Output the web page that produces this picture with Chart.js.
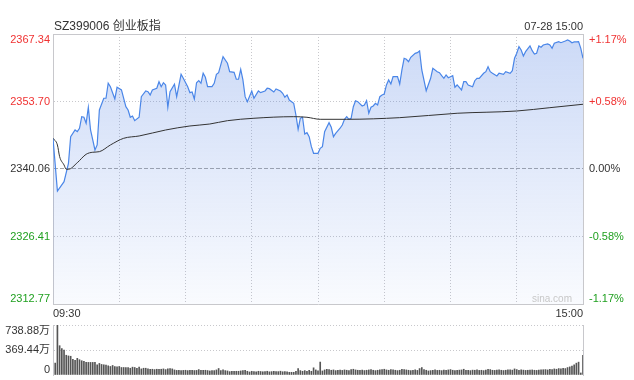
<!DOCTYPE html>
<html>
<head>
<meta charset="utf-8">
<script src="https://cdn.jsdelivr.net/npm/chart.js@4.4.1/dist/chart.umd.min.js"></script>
<style>
  html, body { margin: 0; padding: 0; background: #fff; overflow: hidden; }
  #wrap { position: relative; width: 634px; height: 380px; }
  #priceBox { position: absolute; left: 0; top: 0; width: 634px; height: 320px; }
  #volBox { position: absolute; left: 0; top: 320px; width: 634px; height: 60px; }
</style>
</head>
<body>
<div id="wrap">
  <div id="priceBox"><canvas id="priceChart"></canvas></div>
  <div id="volBox"><canvas id="volChart"></canvas></div>
</div>
<script>
// header texts
const stockTitle = 'SZ399006 创业板指';
const dateTime = '07-28 15:00';
const watermark = 'sina.com';
const prevClose = 2340.06;

// axis labels
const timeLabels = ['09:30', '15:00'];
const priceTicks = [2312.77, 2326.41, 2340.06, 2353.70, 2367.34];
const pctTicks = ['-1.17%', '-0.58%', '0.00%', '+0.58%', '+1.17%'];
const volTicks = [0, 369.44, 738.88];
const volTickLabels = ['0', '369.44万', '738.88万'];

// price line (minute index since 09:30, value)
const priceMinutes = [
  0, 2, 5, 7, 8, 10, 11, 12, 13, 14,
  15, 16, 17, 18, 19, 20, 21, 23, 24, 25,
  26, 28, 29, 31, 33, 34, 35, 36, 37, 39,
  40, 42, 43, 44, 45, 47, 48, 49, 50, 51,
  52, 53, 55, 56, 58, 59, 61, 62, 63, 64,
  65, 66, 67, 68, 69, 70, 72, 73, 74, 75,
  77, 79, 80, 82, 83, 84, 85, 86, 87, 88,
  90, 91, 93, 94, 96, 97, 98, 100, 101, 103,
  104, 105, 106, 107, 109, 110, 111, 112, 113, 114,
  115, 116, 117, 118, 120, 121, 122, 123, 125, 126,
  127, 128, 130, 131, 132, 133, 134, 135, 136, 137,
  138, 140, 141, 142, 143, 144, 145, 146, 147, 148,
  149, 150, 151, 152, 153, 154, 156, 157, 158, 159,
  160, 161, 162, 164, 165, 166, 167, 169, 171, 172,
  174, 175, 176, 177, 178, 179, 180, 181, 182, 183,
  185, 186, 187, 188, 190, 191, 192, 193, 195, 196,
  197, 198, 199, 201, 202, 204, 205, 207, 208, 209,
  210, 211, 212, 213, 214, 216, 217, 218, 219, 220,
  221, 222, 224, 225, 226, 227, 229, 230, 232, 233,
  234, 235, 236, 237, 238, 239, 240
];
const priceValues = [
  2346.26, 2335.61, 2337.49, 2341.21, 2346.59, 2347.94, 2347.60, 2348.29, 2350.63, 2350.51,
  2349.30, 2352.53, 2347.94, 2345.92, 2343.90, 2344.91, 2351.98, 2354.35, 2354.35, 2357.38,
  2356.69, 2354.21, 2356.57, 2356.03, 2352.65, 2351.98, 2350.51, 2350.77, 2349.82, 2350.51,
  2354.67, 2355.82, 2355.68, 2355.02, 2356.03, 2356.37, 2357.70, 2356.69, 2357.50, 2357.04,
  2352.53, 2355.68, 2357.18, 2354.67, 2359.20, 2358.39, 2356.69, 2355.48, 2355.62, 2354.21,
  2357.50, 2357.91, 2357.38, 2359.40, 2358.59, 2356.69, 2356.69, 2357.38, 2359.20, 2359.52,
  2362.76, 2361.42, 2359.72, 2359.60, 2358.19, 2358.19, 2360.21, 2358.05, 2354.67, 2353.66,
  2355.82, 2354.35, 2355.82, 2355.48, 2355.82, 2356.37, 2356.29, 2355.62, 2356.23, 2355.82,
  2355.36, 2354.55, 2355.02, 2354.00, 2353.34, 2350.97, 2348.08, 2350.31, 2350.51, 2347.13,
  2347.40, 2346.59, 2344.57, 2343.23, 2343.23, 2344.24, 2344.57, 2347.60, 2349.42, 2348.49,
  2346.59, 2347.27, 2348.29, 2348.95, 2350.10, 2350.63, 2350.10, 2350.31, 2352.65, 2353.86,
  2353.66, 2352.79, 2352.99, 2353.86, 2351.32, 2352.53, 2352.79, 2353.34, 2352.99, 2354.67,
  2355.02, 2355.22, 2357.04, 2358.05, 2357.24, 2358.71, 2358.71, 2357.24, 2360.07, 2362.43,
  2362.23, 2361.75, 2362.63, 2363.44, 2363.56, 2363.91, 2360.07, 2355.88, 2358.39, 2360.41,
  2359.72, 2359.52, 2358.92, 2358.39, 2359.06, 2358.51, 2358.71, 2358.92, 2356.57, 2357.04,
  2356.03, 2357.70, 2357.70, 2357.04, 2356.69, 2357.90, 2358.39, 2358.39, 2359.40, 2359.72,
  2360.73, 2359.72, 2359.40, 2358.86, 2359.40, 2359.20, 2359.72, 2359.40, 2359.93, 2362.43,
  2363.44, 2364.78, 2364.11, 2362.90, 2363.77, 2364.92, 2363.97, 2363.30, 2363.44, 2364.92,
  2364.66, 2365.12, 2365.32, 2365.12, 2364.45, 2365.46, 2365.79, 2365.58, 2365.93, 2366.13,
  2365.93, 2365.58, 2365.73, 2365.73, 2365.79, 2364.45, 2362.43
];

// average price line
const avgMinutes = [0, 2, 3, 5, 6, 7, 11, 15, 18, 21, 26, 32, 39, 51, 62, 71, 79, 91, 109, 115, 121, 133, 157, 183, 210, 225, 240];
const avgValues = [
  2346.26, 2344.91, 2342.55, 2340.87, 2340.00, 2340.00, 2341.33, 2343.03, 2343.44, 2343.56,
  2344.91, 2346.26, 2346.73, 2347.94, 2348.75, 2349.15, 2349.82, 2350.31, 2350.63, 2350.51,
  2350.10, 2350.10, 2350.43, 2351.32, 2351.78, 2352.45, 2353.14
];

// volume per minute (万), index = minute
const volumes = [
  null, 176, 738.88, 433, 392, 367, 292, 282, 277, 231,
  216, 246, 226, 211, 201, 186, 186, 186, 186, 186,
  151, 171, 156, 151, 146, 136, 126, 141, 126, 121,
  126, 111, 111, 111, 111, 100, 116, 111, 100, 116,
  90, 100, 100, 90, 85, 85, 80, 85, 85, 85,
  90, 80, 90, 95, 90, 75, 68, 70, 66, 68,
  70, 65, 68, 70, 66, 68, 80, 70, 68, 70,
  66, 60, 65, 65, 75, 96, 65, 75, 65, 60,
  50, 55, 55, 55, 55, 60, 65, 70, 55, 45,
  55, 50, 45, 55, 52, 48, 50, 55, 47, 50,
  53, 49, 50, 56, 48, 52, 45, 40, 40, 40,
  55, 96, 65, 55, 65, 55, 70, 55, 106, 75,
  60, 191, 60, 75, 85, 80, 70, 75, 65, 70,
  72, 68, 75, 70, 65, 80, 85, 75, 70, 68,
  72, 66, 70, 75, 80, 70, 65, 70, 75, 80,
  85, 75, 70, 80, 75, 70, 65, 70, 85, 80,
  75, 70, 65, 70, 75, 68, 95, 110, 80, 70,
  60, 65, 70, 75, 68, 70, 65, 72, 68, 75,
  80, 70, 65, 70, 72, 75, 85, 70, 68, 65,
  72, 70, 75, 68, 70, 65, 72, 85, 80, 70,
  68, 72, 75, 70, 66, 70, 75, 78, 72, 90,
  80, 70, 75, 72, 68, 70, 72, 75, 70, 68,
  72, 75, 78, 80, 75, 85, 80, 90, 85, 95,
  90, 100, 95, 110, 120, 130, 150, 175, 190, 30,
  292
];

Chart.defaults.font.family = '"Liberation Sans", Arial, "Noto Sans CJK SC", sans-serif';
Chart.defaults.font.size = 11;
Chart.defaults.color = '#333';

const RED = '#f03232';
const GREEN = '#20a020';
const GRID = '#c8c8cc';
const CLEAR = 'rgba(0,0,0,0)';

// fixed axis sizes so the plot sits where the original one does
function fitAxis(size) {
  return scale => {
    if (scale.isHorizontal()) scale.height = size; else scale.width = size;
    scale.paddingTop = 0; scale.paddingBottom = 0;
    scale.paddingLeft = 0; scale.paddingRight = 0;
  };
}

function priceColor(v) {
  if (v > prevClose) return RED;
  if (v < prevClose) return GREEN;
  return '#333';
}

// top label hangs below the top line, bottom label sits above the bottom line
const edgeLabels = {
  id: 'edgeLabels',
  beforeDraw(chart) {
    Object.values(chart.scales).forEach(s => {
      if (s.axis !== 'y' || !s.options.ticks.display) return;
      const items = s.getLabelItems();
      if (!items.length) return;
      items[0].options.textBaseline = 'bottom';
      items[items.length - 1].options.textBaseline = 'top';
    });
  }
};

const headerText = {
  id: 'headerText',
  afterDraw(chart) {
    const c = chart.ctx;
    const area = chart.chartArea;
    c.save();
    c.textBaseline = 'middle';
    c.fillStyle = '#333';
    c.font = '12px "Liberation Sans", Arial, "Noto Sans CJK SC", sans-serif';
    c.textAlign = 'left';
    c.fillText(stockTitle, area.left + 1, 27);
    c.font = '11px "Liberation Sans", Arial, sans-serif';
    c.textAlign = 'right';
    c.fillText(dateTime, area.right, 27);
    c.fillStyle = '#c8c8c8';
    c.font = '10px "Liberation Sans", Arial, sans-serif';
    c.fillText(watermark, area.right - 11, area.bottom - 5);
    c.restore();
  }
};

const priceCanvas = document.getElementById('priceChart').getContext('2d');
new Chart(priceCanvas, {
  type: 'line',
  data: {
    datasets: [
      {
        label: '均价',
        data: avgMinutes.map((m, i) => ({ x: m, y: avgValues[i] })),
        borderColor: '#333',
        borderWidth: 1,
        pointRadius: 0,
        cubicInterpolationMode: 'monotone',
        fill: false,
        order: 1
      },
      {
        label: '价格',
        data: priceMinutes.map((m, i) => ({ x: m, y: priceValues[i] })),
        borderColor: '#4a86e8',
        borderWidth: 1.2,
        pointRadius: 0,
        tension: 0,
        fill: 'start',
        backgroundColor: ctx => {
          const area = ctx.chart.chartArea;
          if (!area) return 'rgba(70,120,225,0.15)';
          const g = ctx.chart.ctx.createLinearGradient(0, area.top, 0, area.bottom);
          g.addColorStop(0, 'rgba(70,120,225,0.28)');
          g.addColorStop(1, 'rgba(70,120,225,0.03)');
          return g;
        },
        order: 2
      }
    ]
  },
  options: {
    responsive: true,
    maintainAspectRatio: false,
    animation: false,
    events: [],
    layout: { padding: { top: 34, left: 0, right: 0, bottom: 0 } },
    plugins: { legend: { display: false }, tooltip: { enabled: false } },
    scales: {
      x: {
        type: 'linear',
        min: 0,
        max: 240,
        offset: false,
        afterBuildTicks: s => { s.ticks = [0, 30, 60, 90, 120, 150, 180, 210, 240].map(v => ({ value: v })); },
        afterFit: fitAxis(16),
        ticks: {
          autoSkip: false,
          maxRotation: 0,
          align: 'inner',
          padding: 3,
          color: '#333',
          callback: v => (v === 0 ? timeLabels[0] : v === 240 ? timeLabels[1] : '')
        },
        grid: {
          drawTicks: false,
          color: ctx => (ctx.tick && (ctx.tick.value === 0 || ctx.tick.value === 240) ? CLEAR : GRID)
        },
        border: { display: true, color: GRID, dash: [1, 2] }
      },
      y: {
        position: 'left',
        min: priceTicks[0],
        max: priceTicks[priceTicks.length - 1],
        afterBuildTicks: s => { s.ticks = priceTicks.map(v => ({ value: v })); },
        afterFit: fitAxis(53),
        ticks: {
          padding: 3,
          color: ctx => priceColor(ctx.tick.value),
          callback: v => v.toFixed(2)
        },
        grid: {
          drawTicks: false,
          color: ctx => {
            if (!ctx.tick) return GRID;
            if (ctx.tick.value === prevClose) return '#a8a8a8';
            if (ctx.tick.value === priceTicks[0]) return CLEAR;
            return GRID;
          }
        },
        border: {
          display: true,
          color: GRID,
          dash: ctx => {
            if (!ctx.tick) return [];
            if (ctx.tick.value === prevClose) return [4, 2];
            if (ctx.tick.value === priceTicks[priceTicks.length - 1]) return [];
            return [1, 2];
          }
        }
      },
      yPct: {
        position: 'right',
        min: priceTicks[0],
        max: priceTicks[priceTicks.length - 1],
        afterBuildTicks: s => { s.ticks = priceTicks.map(v => ({ value: v })); },
        afterFit: fitAxis(51),
        ticks: {
          padding: 6,
          color: ctx => priceColor(ctx.tick.value),
          callback: (v, i) => pctTicks[i]
        },
        grid: { drawOnChartArea: false, drawTicks: false },
        border: { display: true, color: GRID }
      }
    }
  },
  plugins: [edgeLabels, headerText]
});

const volCanvas = document.getElementById('volChart').getContext('2d');
new Chart(volCanvas, {
  type: 'bar',
  data: {
    datasets: [{
      label: '成交量',
      data: volumes.map((v, m) => ({ x: m, y: v })),
      backgroundColor: '#555',
      barThickness: 1
    }]
  },
  options: {
    responsive: true,
    maintainAspectRatio: false,
    animation: false,
    events: [],
    layout: { padding: { top: 5, left: 0, right: 0, bottom: 5 } },
    plugins: { legend: { display: false }, tooltip: { enabled: false } },
    scales: {
      x: { type: 'linear', min: 0, max: 240, offset: false, display: false },
      y: {
        position: 'left',
        min: 0,
        max: volTicks[volTicks.length - 1],
        afterBuildTicks: s => { s.ticks = volTicks.map(v => ({ value: v })); },
        afterFit: fitAxis(53),
        ticks: {
          padding: 3,
          color: '#333',
          callback: (v, i) => volTickLabels[i]
        },
        grid: {
          drawTicks: false,
          color: ctx => (ctx.tick && ctx.tick.value === 0 ? CLEAR : GRID)
        },
        border: { display: true, color: GRID, dash: [1, 2] }
      },
      yR: {
        position: 'right',
        min: 0,
        max: volTicks[volTicks.length - 1],
        afterFit: fitAxis(51),
        ticks: { display: false },
        grid: { drawOnChartArea: false, drawTicks: false },
        border: { display: true, color: GRID }
      }
    }
  },
  plugins: [edgeLabels]
});
</script>
</body>
</html>
